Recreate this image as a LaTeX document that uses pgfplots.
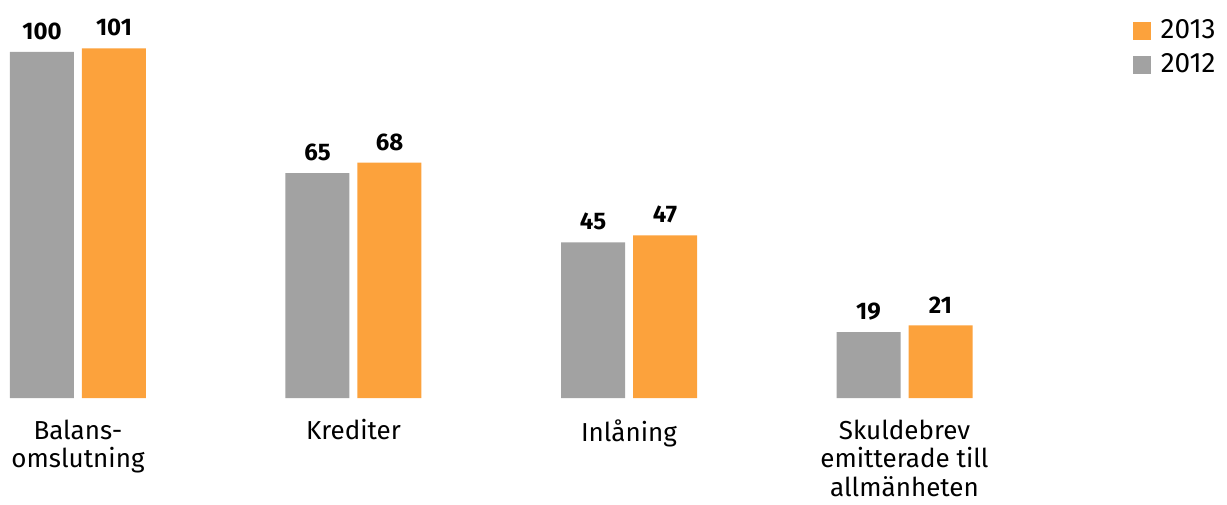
\documentclass[border=0pt]{standalone}
\usepackage{pgfplots}
\pgfplotsset{compat=1.18}
\usepackage{fontspec}
\setmainfont{Fira Sans}
\definecolor{grayb}{HTML}{A2A2A2}
\definecolor{orangeb}{HTML}{FCA23C}
\begin{document}
\begin{tikzpicture}
\path[use as bounding box] (0,-53pt) rectangle (613.5pt,199pt);
\begin{axis}[
  scale only axis, width=613.5pt, height=199pt,
  anchor=south west, at={(0,0)},
  xmin=-0.2831, xmax=4.1706, ymin=0, ymax=115.0,
  clip=false,
  axis line style={draw=none}, tick style={draw=none},
  ytick=\empty,
  xtick={0,1,2,3},
  xticklabels={{Balans-\\omslutning},{Krediter},{Inl\r{a}ning},{Skuldebrev\\emitterade till\\allm\"anheten}},
  xticklabel style={align=center, font=\fontsize{13}{14.3}\selectfont, anchor=north, yshift=-3pt},
  ybar, bar width=32pt,
  nodes near coords,
  /pgf/number format/assume math mode=true,
  every node near coord/.append style={font=\fontsize{12}{12}\selectfont\bfseries, yshift=2.5pt},
  legend style={at={(0.9943,0.962)}, anchor=north east, draw=none, fill=none, inner sep=0pt,
    font=\fontsize{14}{17}\selectfont, row sep=2pt,
    /tikz/every odd column/.append style={column sep=3pt}},
  legend image code/.code={\fill[#1] (0pt,-4.5pt) rectangle (9pt,4.5pt);},
  reverse legend,
]
\addplot[fill=grayb, draw=none, bar shift=-18pt] coordinates {(0,100) (1,65) (2,45) (3,19)};
\addplot[fill=orangeb, draw=none, bar shift=18pt] coordinates {(0,101) (1,68) (2,47) (3,21)};
\legend{2012,2013}
\end{axis}
\end{tikzpicture}
\end{document}
